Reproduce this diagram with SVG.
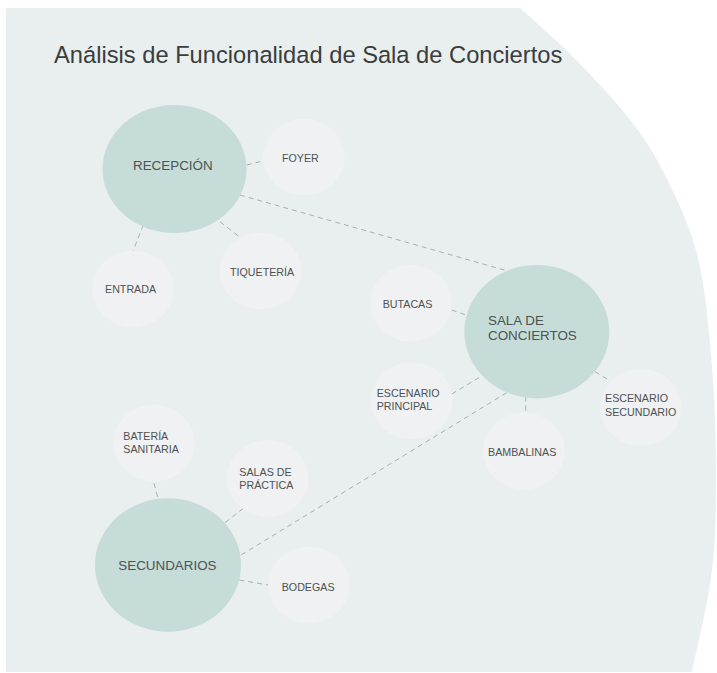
<svg xmlns="http://www.w3.org/2000/svg" width="717" height="673" viewBox="0 0 717 673">
<style>
.bg{fill:#e9eeee}
.big{fill:#c6dcd8}
.sm{fill:#eff1f2}
.t{font-family:"Liberation Sans",Arial,sans-serif;fill:#4d5252}
.tb{font-size:13.4px}
.ts{font-size:10.7px}
.title{font-family:"Liberation Sans",Arial,sans-serif;font-size:23.7px;fill:#3a3d3d}
.c line{stroke:#a9b0b0;stroke-width:1;stroke-dasharray:5 4;fill:none}
</style>
<rect width="717" height="673" fill="#ffffff"/>
<path class="bg" d="M6,8 L520,8 C541,27 563,46 583,67 C603,88 624.3,110.8 640,133 C655.7,155.2 667,177.7 677,200 C687,222.3 694.2,239.2 700,267 C705.8,294.8 709.3,333.2 712,367 C714.7,400.8 716,436.2 716,470 C716,503.8 716,536.2 712,570 C708,603.8 698.7,638.7 692,672 L6,672 Z"/>
<text class="title" x="54" y="63">Análisis de Funcionalidad de Sala de Conciertos</text>
<g id="connectors" class="c">
<line x1="246.7" y1="165" x2="262.7" y2="161"/>
<line x1="240" y1="195" x2="506.7" y2="270.7"/>
<line x1="220" y1="221.7" x2="239.3" y2="236.7"/>
<line x1="143.3" y1="225" x2="132.7" y2="251.7"/>
<line x1="451.7" y1="310" x2="466" y2="315"/>
<line x1="451.7" y1="394" x2="481.7" y2="376"/>
<line x1="506.7" y1="392.7" x2="238.3" y2="556.7"/>
<line x1="525.7" y1="396.7" x2="525.7" y2="413.3"/>
<line x1="595" y1="371.7" x2="610" y2="380.7"/>
<line x1="154" y1="483.3" x2="158.3" y2="499.3"/>
<line x1="243.3" y1="508.3" x2="223.3" y2="524"/>
<line x1="239.3" y1="580" x2="268.3" y2="585"/>
</g>
<g id="recepcion"><ellipse class="big" cx="174.5" cy="169" rx="72" ry="64"/><text class="t tb" x="133" y="169.7">RECEPCIÓN</text></g>
<g id="foyer"><ellipse class="sm" cx="304" cy="157" rx="41" ry="38.5"/><text class="t ts" x="282" y="161.5">FOYER</text></g>
<g id="tiqueteria"><ellipse class="sm" cx="260.5" cy="271" rx="41" ry="38.5"/><text class="t ts" x="230" y="275.7">TIQUETERÍA</text></g>
<g id="entrada"><ellipse class="sm" cx="133" cy="289" rx="41" ry="38.5"/><text class="t ts" x="105" y="293">ENTRADA</text></g>
<g id="sala"><ellipse class="big" cx="536.8" cy="331.7" rx="72.5" ry="66.7"/><text class="t tb" x="488" y="324.7">SALA DE</text><text class="t tb" x="488" y="340.4">CONCIERTOS</text></g>
<g id="butacas"><ellipse class="sm" cx="410.8" cy="303.3" rx="41" ry="38.5"/><text class="t ts" x="382.7" y="308">BUTACAS</text></g>
<g id="escenario-principal"><ellipse class="sm" cx="411.7" cy="400.7" rx="41" ry="38.5"/><text class="t ts" x="376.7" y="396.5">ESCENARIO</text><text class="t ts" x="376.7" y="410">PRINCIPAL</text></g>
<g id="bambalinas"><ellipse class="sm" cx="524" cy="451" rx="41" ry="38.5"/><text class="t ts" x="488" y="456">BAMBALINAS</text></g>
<g id="escenario-secundario"><ellipse class="sm" cx="641" cy="407.5" rx="41" ry="38.5"/><text class="t ts" x="605" y="402">ESCENARIO</text><text class="t ts" x="605" y="416">SECUNDARIO</text></g>
<g id="secundarios"><ellipse class="big" cx="168" cy="565" rx="73" ry="66.7"/><text class="t tb" x="118.3" y="569.7">SECUNDARIOS</text></g>
<g id="bateria-sanitaria"><ellipse class="sm" cx="154" cy="443" rx="41" ry="38.5"/><text class="t ts" x="123.3" y="440">BATERÍA</text><text class="t ts" x="123.3" y="452.5">SANITARIA</text></g>
<g id="salas-practica"><ellipse class="sm" cx="267.7" cy="478.3" rx="41" ry="38.5"/><text class="t ts" x="239.3" y="475.5">SALAS DE</text><text class="t ts" x="239.3" y="488.5">PRÁCTICA</text></g>
<g id="bodegas"><ellipse class="sm" cx="309" cy="585" rx="41" ry="38.5"/><text class="t ts" x="281.7" y="590.5">BODEGAS</text></g>
</svg>
